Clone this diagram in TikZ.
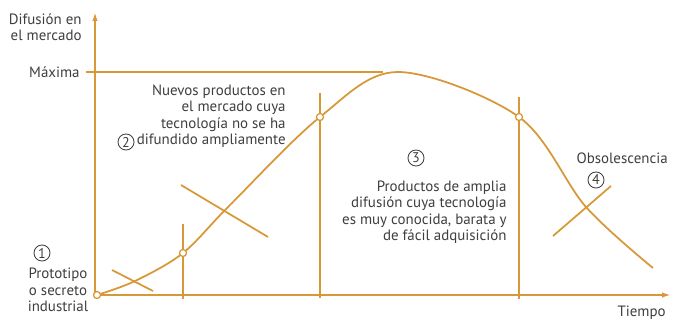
\documentclass[tikz,border=0pt]{standalone}
\usepackage{fontspec}
\setmainfont{PT Sans}
\usetikzlibrary{arrows.meta}
\definecolor{ocre}{RGB}{216,152,56}
\definecolor{tinta}{RGB}{62,62,62}

\begin{document}
\begin{tikzpicture}[x=0.02cm,y=-0.02cm,
  eje/.style={ocre,line width=1.2pt},
  linea/.style={ocre,line width=1pt},
  num/.style={draw=tinta,circle,inner sep=0.7pt,text=tinta,line width=0.5pt,font=\fontsize{8}{8}\selectfont},
  txt/.style={text=tinta,inner sep=0pt,font=\fontsize{8.5}{9.4}\selectfont},
  punto/.style={circle,draw=ocre,fill=white,inner sep=0pt,minimum size=4pt,line width=0.7pt}]
\useasboundingbox (0,0) rectangle (673,321);
% ejes
\coordinate (O) at (97,295);
\coordinate (ybot) at (95,298);
\coordinate (ytop) at (95,12);
\coordinate (xend) at (671,295);
\draw[eje,-{Latex[length=5pt,width=3pt]}] (ybot) -- (ytop);
\draw[eje,-{Latex[length=5pt,width=3pt]}] (O) -- (xend);
% maxima
\coordinate (m0) at (86,72);
\coordinate (m1) at (383,72);
\draw[linea] (m0) -- (m1);
% verticales
\coordinate (v1a) at (183,224);
\coordinate (v1b) at (183,299);
\coordinate (v2a) at (320,93);
\coordinate (v2b) at (320,298);
\coordinate (v3a) at (519,97);
\coordinate (v3b) at (519,299);
\draw[linea] (v1a) -- (v1b);
\draw[linea] (v2a) -- (v2b);
\draw[linea] (v3a) -- (v3b);
% curva
\coordinate (c1) at (135,281);
\coordinate (p1) at (183,253);
\coordinate (c2) at (230,205);
\coordinate (p2) at (320,117);
\coordinate (top) at (398,72);
\coordinate (p3) at (519,117);
\coordinate (c4) at (586,207);
\coordinate (fin) at (653,268);
\draw[linea] plot[smooth,tension=0.55] coordinates {(O) (c1) (p1) (c2) (p2) (top) (p3) (c4) (fin)};
% cruces
\coordinate (x1a) at (112,270);
\coordinate (x1b) at (153,291);
\coordinate (x2a) at (181,185);
\coordinate (x2b) at (268,237);
\coordinate (x4a) at (553,236);
\coordinate (x4b) at (611,186);
\draw[linea] (x1a) -- (x1b);
\draw[linea] (x2a) -- (x2b);
\draw[linea] (x4a) -- (x4b);
\node[punto] (o) at (O){};
\node[punto] (q1) at (p1){};
\node[punto] (q2) at (p2){};
\node[punto] (q3) at (p3){};
% textos
\node[txt,align=right,anchor=east] (difusion) at (82,27){Difusión en\\el mercado};
\node[txt,anchor=east] (maxima) at (80,72){Máxima};
\node[txt,align=right,anchor=east] (nuevos) at (286,116){Nuevos productos en\\el mercado cuya\\tecnología no se ha\\difundido ampliamente};
\node[num] (n2) at (126,142){2};
\node[num] (n3) at (416,158){3};
\node[txt,align=right,anchor=east] (productos) at (507,212){Productos de amplia\\difusión cuya tecnología\\es muy conocida, barata y\\de fácil adquisición};
\node[txt,anchor=east] (obsol) at (668,158){Obsolescencia};
\node[num] (n4) at (596,180){4};
\node[num] (n1) at (42,253){1};
\node[txt,align=center] (proto) at (58,290){Prototipo\\o secreto\\industrial};
\node[txt,anchor=east] (tiempo) at (666,313){Tiempo};
\end{tikzpicture}
\end{document}
